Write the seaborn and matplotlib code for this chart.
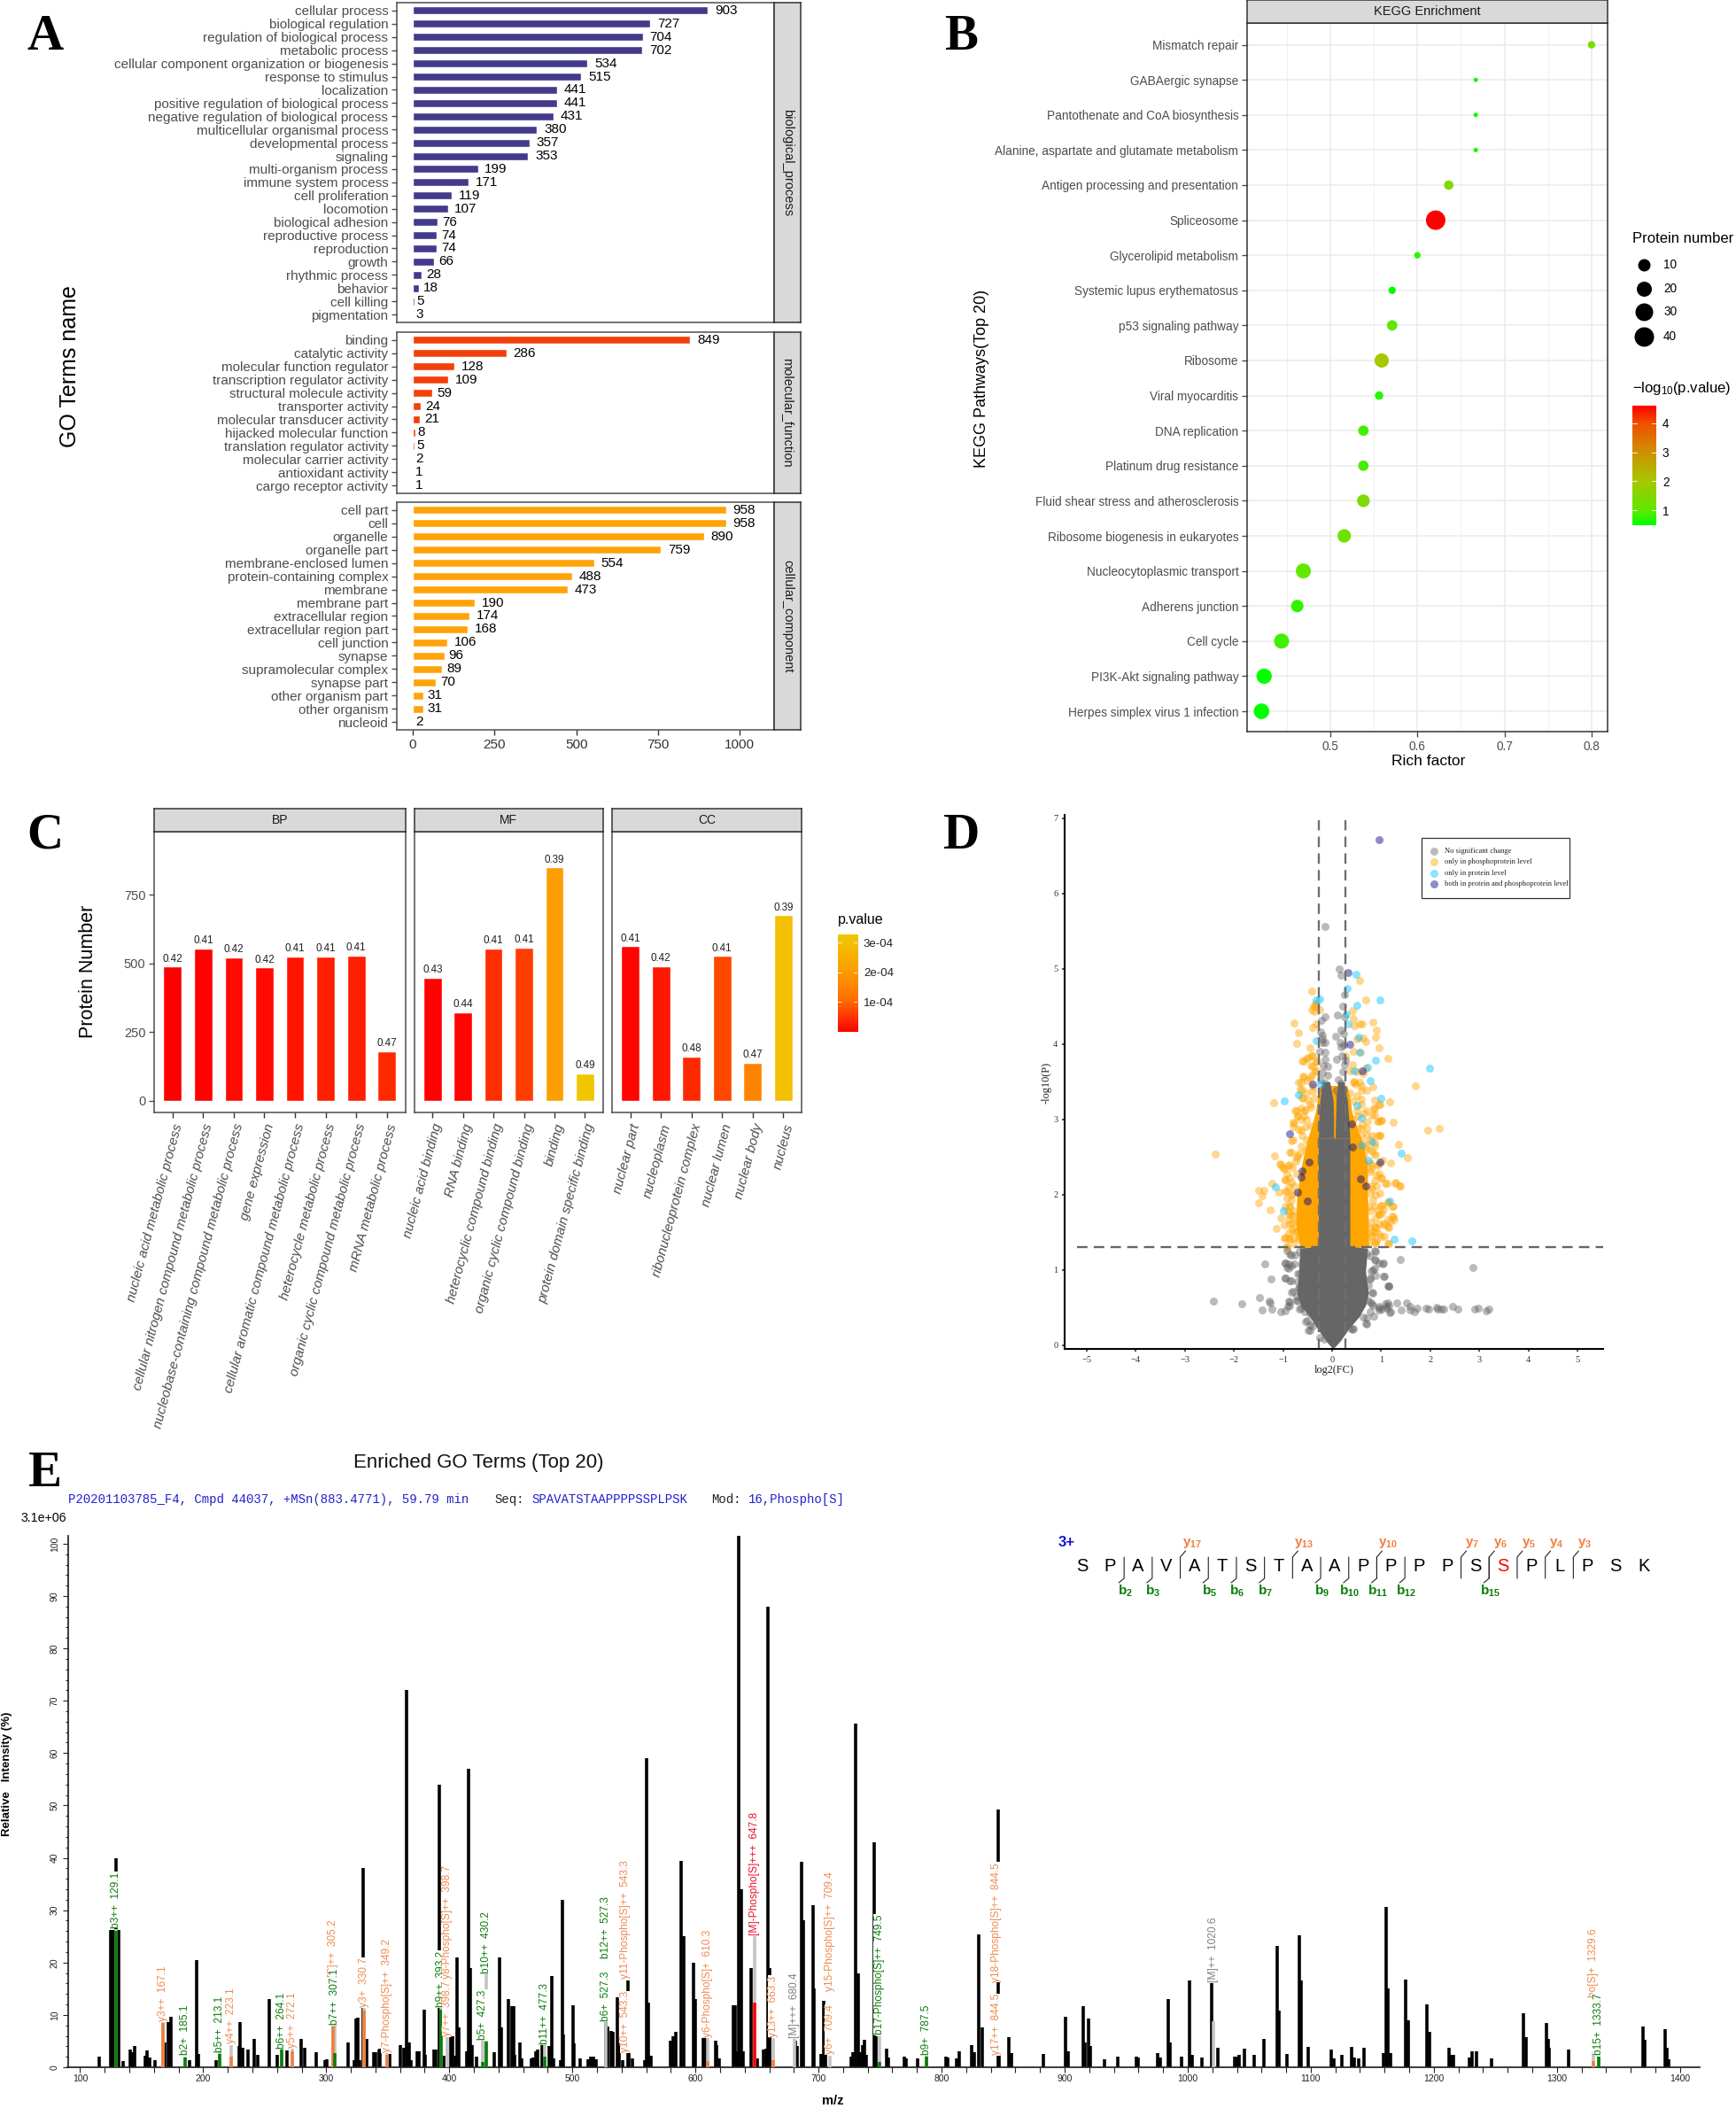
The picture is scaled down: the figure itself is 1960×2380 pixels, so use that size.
import numpy as np
import pandas as pd
import matplotlib
matplotlib.use('Agg')
import matplotlib.pyplot as plt
from matplotlib.colors import LinearSegmentedColormap, Normalize
import seaborn as sns

W, H = 1960, 2380

# --- panel A: GO terms ---
bp_terms = ['cellular process', 'biological regulation', 'regulation of biological process', 'metabolic process',
            'cellular component organization or biogenesis', 'response to stimulus', 'localization',
            'positive regulation of biological process', 'negative regulation of biological process',
            'multicellular organismal process', 'developmental process', 'signaling', 'multi-organism process',
            'immune system process', 'cell proliferation', 'locomotion', 'biological adhesion',
            'reproductive process', 'reproduction', 'growth', 'rhythmic process', 'behavior', 'cell killing',
            'pigmentation']
bp_counts = [903, 727, 704, 702, 534, 515, 441, 441, 431, 380, 357, 353, 199, 171, 119, 107, 76, 74, 74, 66, 28, 18, 5, 3]
mf_terms = ['binding', 'catalytic activity', 'molecular function regulator', 'transcription regulator activity',
            'structural molecule activity', 'transporter activity', 'molecular transducer activity',
            'hijacked molecular function', 'translation regulator activity', 'molecular carrier activity',
            'antioxidant activity', 'cargo receptor activity']
mf_counts = [849, 286, 128, 109, 59, 24, 21, 8, 5, 2, 1, 1]
cc_terms = ['cell part', 'cell', 'organelle', 'organelle part', 'membrane-enclosed lumen', 'protein-containing complex',
            'membrane', 'membrane part', 'extracellular region', 'extracellular region part', 'cell junction',
            'synapse', 'supramolecular complex', 'synapse part', 'other organism part', 'other organism', 'nucleoid']
cc_counts = [958, 958, 890, 759, 554, 488, 473, 190, 174, 168, 106, 96, 89, 70, 31, 31, 2]

# --- panel B: KEGG ---
kegg_names = ['Mismatch repair', 'GABAergic synapse', 'Pantothenate and CoA biosynthesis',
              'Alanine, aspartate and glutamate metabolism', 'Antigen processing and presentation', 'Spliceosome',
              'Glycerolipid metabolism', 'Systemic lupus erythematosus', 'p53 signaling pathway', 'Ribosome',
              'Viral myocarditis', 'DNA replication', 'Platinum drug resistance',
              'Fluid shear stress and atherosclerosis', 'Ribosome biogenesis in eukaryotes',
              'Nucleocytoplasmic transport', 'Adherens junction', 'Cell cycle', 'PI3K-Akt signaling pathway',
              'Herpes simplex virus 1 infection']
kegg_rich = [.8, .667, .667, .667, .636, .621, .6, .571, .571, .559, .556, .538, .538, .538, .516, .469, .462, .444, .424, .421]
kegg_count = [5, 2, 2, 2, 7, 41, 4, 5, 8, 17, 6, 8, 8, 11, 14, 20, 10, 20, 21, 22]
kegg_logp = [1.3, .6, .55, .5, 1.5, 4.6, .7, .55, 1.0, 2.0, .7, .85, .85, 1.4, 1.2, 1.05, .75, .85, .5, .5]

# --- panel C ---
c_bp_terms = ['nucleic acid metabolic process', 'cellular nitrogen compound metabolic process',
              'nucleobase-containing compound metabolic process', 'gene expression',
              'cellular aromatic compound metabolic process', 'heterocycle metabolic process',
              'organic cyclic compound metabolic process', 'mRNA metabolic process']
c_bp_vals = [488, 553, 522, 485, 525, 524, 529, 181]
c_bp_ratio = ['0.42', '0.41', '0.42', '0.42', '0.41', '0.41', '0.41', '0.47']
c_bp_p = [1e-6, 2e-6, 1e-5, 1e-5, 2e-5, 3e-5, 3e-5, 4e-5]
c_mf_terms = ['nucleic acid binding', 'RNA binding', 'heterocyclic compound binding', 'organic cyclic compound binding',
              'binding', 'protein domain specific binding']
c_mf_vals = [448, 322, 555, 557, 849, 100]
c_mf_ratio = ['0.43', '0.44', '0.41', '0.41', '0.39', '0.49']
c_mf_p = [3e-6, 4e-6, 4.5e-5, 6e-5, 2.1e-4, 3.2e-4]
c_cc_terms = ['nuclear part', 'nucleoplasm', 'ribonucleoprotein complex', 'nuclear lumen', 'nuclear body', 'nucleus']
c_cc_vals = [562, 491, 162, 527, 139, 675]
c_cc_ratio = ['0.41', '0.42', '0.48', '0.41', '0.47', '0.39']
c_cc_p = [5e-6, 2.4e-5, 4e-5, 7e-5, 1.5e-4, 3.0e-4]

# --- panel D: volcano, the points that can be told apart ---
orange_fc = [-2.39, 1.69, 1.94, 2.19, 1.36, 1.53, -1.2, -1.18, -1.06, -1.02, -1.49, -1.39, -1.42, -1.5, -1.23, -1.08, -1.27,
             -1.05, -1.14, -.77, -.68, -.73, -.41, -.38, -.32, -.41, -.26, -.34, -.36, -.39, -.32, -.45, -.61, -.52, -.41,
             -.32, -.43, -.36, -.59, -.51, -.68, -.65, -.41, -.62, -.75, -.7, -.79, -.68, -.83, -.86, -.9, -.95, -.95,
             -.87, -.88, -.81, -.95, -.86, -.69, -.93, -.72, -.77, -.63, -.8, -.74, -.92, -.84, -.98, -.78,
             .56, .68, .41, .43, .45, .56, .61, .82, .91, .88, .63, .5, .68, .95, 1.13, .43, .57, .27, .68, .36, .45, .63,
             .83, .59, .36, .86, 1.17, .96, .84, .59, .81, .99, 1.24, .92, .72, .81, .98, .92, .87, .72, 1.02, 1.19, .95,
             .81, .9, .99, 1.09, 1.28, 1.37, .9, .81, 1.13, 1.22, 1.05, .99, 1.22, 1.26, 1.13, 1.05, 1.14, .95, .86, .99,
             .9, 1.13, .86, .81, .75, .84, .78, .88]
orange_p = [2.54, 3.45, 2.86, 2.88, 2.67, 2.49, 3.22, 2.51, 2.41, 2.36, 2.06, 2.06, 1.98, 1.89, 2.15, 2.03, 1.8,
            1.69, 1.55, 4.28, 4.15, 4.01, 4.7, 4.5, 4.51, 4.46, 4.46, 4.54, 4.43, 4.22, 4.27, 3.95, 3.77, 3.81, 3.85,
            3.76, 3.71, 3.63, 3.57, 3.52, 3.49, 3.4, 3.58, 3.29, 3.12, 3.05, 2.96, 2.87, 2.72, 2.56, 2.38, 2.2, 2.05,
            1.85, 1.74, 1.62, 1.43, 1.41, 1.42, 1.3, 1.52, 1.72, 3.15, 2.9, 2.45, 2.28, 2.0, 1.6, 1.35,
            4.85, 4.59, 4.45, 4.34, 4.24, 4.27, 4.27, 4.29, 4.19, 4.09, 4.08, 4.07, 4.03, 3.95, 3.81, 3.9, 3.89, 3.84, 3.68,
            3.65, 3.5, 3.61, 3.43, 3.45, 3.35, 3.26, 3.23, 3.2, 3.15, 3.27, 3.06, 2.98, 2.96, 2.97, 2.97, 2.79, 2.79, 2.78,
            2.64, 2.61, 2.46, 2.42, 2.41, 2.38, 2.26, 2.22, 2.15, 2.15, 2.12, 2.11, 2.08, 1.9, 1.84, 1.81, 1.86, 1.71, 1.67,
            1.67, 1.62, 1.57, 1.74, 1.57, 1.45, 1.38, 1.35, 1.36, 1.46, 1.85, 2.55, 2.3, 1.5]
orange_edge_fc = [-1.04, -.98, -.86, -.81, -.73, -.95, -.83, -.73, -.93, -.8, -.86, -.83, -.89, -.81, -.73, -.7, -.98, -.89,
                  -.8, -.67, -.92, -.58, -.48, -.39, -.3, -.4, -.33, -.57, -.46, -.64, -.61, -.4, -.6, -.73, -.54, -.7,
                  -.77, -.58, -.43, -.64, -.8, -.83, -.7, .77, .92, 1.01, .95, 1.12, 1.3, 1.39, .89, .98, .8, .86, 1.01,
                  1.13, 1.24, .95, .89, 1.24, 1.19, 1.07, 1.16, .9, .77, .8, 1.07, 1.15, .89, .74, .41, .5, .44, .56, .71,
                  .98, .87, .71, .86, 1.01, .95, .71, .59, .65,
                  -.58, -.64, -.52, -.46, -.55, -.43, -.61, -.52, -.64, -.55, -.67, -.43, -.49, -.37, -.52, -.4,
                  .47, .59, .5, .44, .59, .5, .65, .53, .44, .62, .53, .71, .59, .77, .68, .8, .65, .89, .98, .86,
                  -.86, -.89, -.77, -.92, -.83, -.95, -.89, -.77, -.86, -.8, -.89,
                  .8, .86, .77, .83, .77, .92, 1.01, .8, .95, .83, .95]
orange_edge_p = [2.4, 2.34, 2.4, 2.36, 2.49, 2.2, 2.16, 2.28, 2.05, 2.02, 1.85, 1.73, 1.67, 1.55, 1.65, 1.51, 1.42, 1.42,
                 1.42, 1.44, 1.32, 3.77, 3.82, 3.84, 3.77, 3.7, 3.65, 3.56, 3.55, 3.49, 3.4, 3.37, 3.28, 3.12, 3.13, 3.04,
                 2.95, 3.04, 3.16, 2.86, 2.73, 2.56, 2.51, 2.42, 2.38, 2.22, 2.28, 2.15, 2.16, 2.11, 2.0, 2.02, 2.12, 1.85,
                 1.86, 1.89, 1.85, 1.74, 1.69, 1.7, 1.65, 1.6, 1.56, 1.56, 1.55, 1.44, 1.44, 1.35, 1.36, 1.36, 3.73, 3.63,
                 3.49, 3.49, 3.39, 3.2, 3.14, 3.12, 3.06, 2.98, 2.97, 2.8, 2.88, 2.69,
                 3.12, 3.0, 3.0, 3.2, 2.9, 2.92, 2.79, 2.73, 2.65, 2.59, 2.55, 2.69, 3.26, 3.28, 3.35, 3.43,
                 3.47, 3.39, 3.31, 3.24, 3.2, 3.12, 3.08, 3.04, 3.0, 2.94, 2.88, 2.88, 2.79, 2.73, 2.65, 2.59, 2.53, 2.53,
                 2.79, 2.69,
                 2.22, 2.1, 2.12, 1.95, 1.93, 1.85, 1.77, 1.79, 1.61, 1.51, 1.49,
                 2.34, 2.18, 2.02, 1.93, 1.79, 1.79, 1.75, 1.63, 1.61, 1.51, 1.48]
blue_fc = [1.99, -.97, -.68, .97, .5, .48, .3, -.26, -.32, .29, .33, -.32, .54, .56, .89, .72, .45, .78, .99, .5, .6, .81,
           .59, 1.41, .73, -1.16, -.99, 1.18, 1.27, 1.62, -.23]
blue_p = [3.68, 3.25, 3.33, 4.59, 4.52, 4.93, 4.74, 4.6, 4.59, 4.4, 4.27, 4.04, 4.09, 3.89, 3.79, 3.69, 3.65, 3.52, 3.28,
          3.18, 3.02, 2.7, 2.66, 2.55, 2.46, 2.1, 1.79, 1.91, 1.41, 1.39, 3.47]
purple_fc = [.95, .32, .36, .61, -.39, -.87, .98, -.61, -.63, -.71, .4, .41, .58, .68, -.47, -.5]
purple_p = [6.72, 4.95, 4.0, 3.64, 3.47, 2.81, 2.43, 2.31, 2.23, 2.03, 2.94, 2.63, 2.21, 2.12, 2.43, 1.92]
grey_fc = [-.14, .15, .18, .26, .21, .11, .25, -.15, -.22, .18, .24, .07, -.23, -.2, -.2, -.14, -.2, .16, .23, .18, -.25,
           -.14, .2, .09, .27, -.14, -.18, -.09, .25, .21, -.2, -.09, .12, -.23, -.14, .18, -.18, .09, .23, -.09, .14,
           2.86, 1.39, 1.13, 1.05, .86, .88, 1.02, .89, .77, .81, -1.37, -1.24, -.96, -.88, -.93, -.96, -.86, -.86, -.83,
           -.88, -2.42, -1.85, -1.48, -1.28, -1.26, -1.42, -1.23, -1.05, -.96, -.9, -.66, -.56, -.54, -.45, -.48,
           .81, .95, .95, 1.09, 1.14, 1.11, 1.17, 1.31, 1.4, 1.51, 1.59, 1.58, 1.67, 1.74, 1.92, 1.96, 2.12, 2.14, 2.21,
           2.27, 2.45, 2.57, 2.91, 2.97, 3.14, 3.2, .84, .68, .63, .41, -.75, -.7, -.68, -.72, .78, .82, .74, .72]
grey_p = [5.56, 5.0, 4.91, 4.66, 4.5, 4.39, 4.36, 4.36, 4.32, 4.19, 4.14, 4.1, 4.16, 4.12, 4.07, 4.02, 4.02, 4.02, 3.99,
          3.96, 3.9, 3.89, 3.84, 3.8, 3.79, 3.8, 3.72, 3.7, 3.73, 3.63, 3.62, 3.58, 3.53, 3.53, 3.48, 3.48, 3.4, 3.38,
          3.4, 3.35, 3.33, 1.03, 1.14, .79, .91, 1.26, 1.13, 1.08, .93, .88, .7, 1.08, .88, 1.09, 1.08, 1.03, .89, .86,
          1.21, .7, .59, .58, .55, .63, .58, .56, .47, .48, .44, .46, .52, .48, .44, .32, .27, .2,
          .55, .52, .47, .55, .56, .49, .43, .56, .47, .56, .52, .47, .45, .49, .49, .48, .5, .48, .48, .48, .51, .48,
          .48, .49, .46, .48, .39, .29, .37, .21, 1.2, .95, .75, .6, 1.18, 1.0, .8, .6]
grey_edge_fc = [-.92, -.83, -.67, -.58, -.95, -.89, -.83, -.77, -.64, -.67, -.95, -.84, -.7, -.67, -.8, -.73, -.7, -.86, -.87,
                -.64, -.58, -.46, -.51, -.4, -.45, -.25, -.16, .71, .89, .86, .95, 1.04, .86, .8, 1.07, .77, 1.16, 1.16, .83,
                .77, .83, .95, .77, .71, .71, .44, .38, 1.19, 1.16, 1.1, 1.01]
grey_edge_p = [1.26, 1.2, 1.24, 1.22, 1.09, 1.02, 1.06, 1.08, 1.08, .95, .89, .86, .85, .77, .71, .65, .59, .57, .53, .49, .53,
               .42, .33, .26, .2, .1, .08, 1.22, 1.24, 1.14, 1.09, 1.09, 1.02, .98, .91, .89, .79, .79, .69, .57, .53, .49,
               .44, .36, .28, .22, .22, .44, .53, .52, .48]

# the solid mass of the volcano, as its outline
mass_orange_p = [1.3, 1.6, 2.0, 2.4, 2.7, 2.9, 3.1, 3.3, 3.45]
mass_orange_left = [-.66, -.74, -.72, -.62, -.52, -.42, -.34, -.29, -.24]
mass_orange_right = [.74, .74, .72, .72, .62, .50, .40, .36, .30]
mass_grey_p = [-.04, .06, .22, .38, .53, .69, .98, 1.29, 1.31, 2.75]
mass_grey_left = [0, -.13, -.3, -.46, -.64, -.72, -.68, -.66, -.28, -.28]
mass_grey_right = [.03, .17, .34, .55, .68, .74, .68, .72, .36, .36]
lobe_p = [2.75, 3.0, 3.25, 3.5]
lobe_left_out = [-.28, -.27, -.25, -.2]
lobe_left_in = [.03, .03, .02, -.05]
lobe_right_in = [.06, .07, .08, .12]
lobe_right_out = [.36, .34, .31, .24]

# --- panel E: spectrum ---
peak_mz = [115.6, 125.2, 127, 129.5, 131.2, 134.8, 140.8, 142.5, 144.4, 152.8, 154.7, 156.8, 160.7, 169, 171.5, 173.6, 188.7,
           194.7, 196, 210.3, 229.5, 230.2, 232, 236.2, 241.7, 244.4, 254, 260, 267.9, 279.9, 282.2, 291.9, 299, 300.2,
           317.7, 323, 324.2, 325.4, 327, 329.7, 333, 338.6, 340.3, 342.7, 343.4, 351.8, 360.4, 363.3, 365.5, 367.1, 369,
           373.9, 375, 379.4, 380.6, 387.8, 389, 391.8, 395.4, 401.4, 402.6, 404.5, 406.5, 407.7, 414.1, 415.8, 417.3,
           418.5, 421.8, 436.2, 441.2, 442.5, 447.7, 450.8, 452.5, 453.2, 457.5, 459, 466.6, 468.5, 470.4, 472, 475.6,
           481, 483.3, 485, 490.5, 491.8, 493, 500.5, 501.5, 506.4, 513, 515, 517, 519, 527.3, 528.5, 531.5, 533, 536.5,
           538, 541, 545, 546, 549, 558.8, 560, 562, 564, 579.7, 581.7, 583.8, 588.7, 590.5, 598.2, 599.7, 606.7, 608.5,
           616.2, 617.5, 619.5, 631, 632, 633.7, 635, 637.5, 639, 645, 650, 655.5, 657.3, 658.9, 660.7, 681.3, 683, 686.4,
           687.6, 695.4, 696.5, 702.3, 704.4, 705.5, 726.7, 728.3, 730, 732, 733.8, 735.7, 737.3, 739, 745, 746.5, 755, 757,
           770, 771.5, 780.2, 803.3, 805, 812.3, 814, 824.6, 826.5, 830, 832.9, 846, 846.9, 854.3, 857, 883, 900.4, 902.6,
           915, 916.5, 919.3, 921, 932.3, 943, 958.3, 959.5, 975.6, 978, 983.9, 985.5, 994.8, 1001.6, 1003.5, 1011.7, 1019.5,
           1024.4, 1038, 1040, 1042, 1046, 1054, 1062, 1072.4, 1073.8, 1080.6, 1090.6, 1092, 1098, 1116.6, 1119, 1125, 1133.5,
           1135.5, 1139, 1143, 1159, 1161, 1162.7, 1165, 1177.3, 1179, 1194.7, 1196.5, 1212.4, 1214, 1216, 1229, 1231, 1234.3,
           1246.6, 1273, 1275, 1291.3, 1292.8, 1294, 1309.6, 1370, 1371.6, 1387.6, 1389.5, 1391]
peak_int = [2, 26.2, 26.2, 40, 26.2, 1.2, 3.4, 2.8, 4, 2.2, 3.2, 1.8, 1.4, 4.8, 8.7, 9.6, 1.4,
            20.5, 2.5, 1.4, 4, 8.6, 3.7, 3.4, 5.4, 2.4, 13.1, 2.4, 3.2, 5.4, 3.7, 2.8, 1.4, 1.6,
            4.8, 1.4, 9.3, 9.5, 1.4, 38, 5.4, 2.8, 2.9, 3.4, 3.5, 2.5, 4.2, 3.7, 72, 4.8, 1.4,
            3.1, 3.1, 11, 2.3, 3.3, 3.4, 54, 2.2, 5.8, 5.9, 2.2, 20.9, 7.6, 3.1, 57, 18.9,
            4.2, 2, 2.9, 21, 7.6, 13, 11.7, 11.6, 2.3, 4.8, 1.7, 1.7, 1.9, 3.1, 3.4, 4.2,
            4, 17.5, 1.7, 1.4, 32, 6.2, 11.8, 4.5, 1.7, 1.5, 2, 2, 1.6, 8.6, 7.8, 7, 6.8, 13.4,
            4.5, 1.4, 16.5, 2.9, 1.7, 1.4, 59, 12.4, 2.2, 5, 5.9, 6.8, 39.5, 25, 20, 13, 5.6, 5.6,
            5, 4.2, 1.7, 11.8, 11.8, 3.1, 101.5, 34, 3, 19, 1.7, 3.4, 3.6, 88, 19, 5, 4, 39.2,
            28, 31, 15, 2.5, 12.7, 2.5, 2, 2.8, 65.6, 18, 2.8, 4.2, 5.2, 2.4, 43, 6, 3.5, 1.9,
            2, 1.7, 1.7, 2, 1.8, 1.7, 3, 4.3, 2.8, 25.3, 7.6, 49.3, 2.5, 5.7, 2.7, 2.5, 9.7, 3,
            11.7, 4.8, 9.3, 4, 1.6, 2.1, 2.1, 1.9, 2.7, 1.9, 13, 4.7, 2.1, 16.5, 2.3, 1.9, 16,
            3.8, 2, 2.1, 2.3, 3.5, 2.3, 5.4, 23.2, 10.9, 2.5, 25.2, 16.6, 3.9, 3.3, 1.7, 2.3, 3.9,
            1.8, 1.7, 3.8, 2.7, 30.7, 15, 2.7, 16.8, 8.9, 12, 6.8, 3.7, 2.4, 2.3, 1.8, 3, 3,
            1.7, 10.3, 5.7, 8.4, 5.4, 3.8, 3.4, 7.8, 5.2, 7.2, 3.8, 1.5]
# matched ions: m/z, height of the coloured foot, full height, ion type
ion_mz = [129.1, 167.1, 185.1, 213.1, 223.1, 264.1, 272.1, 305.2, 307.1, 330.7, 349.2, 393.2, 398.7, 427.3, 430.2, 477.3,
          527.3, 610.3, 647.8, 663.3, 680.4, 709.4, 749.5, 787.5, 1020.6, 1329.6, 1333.7]
ion_foot = [26, 8.5, 1.9, 2.6, 2, 3.3, 3, 7.7, 2.7, 10.8, 2.4, 11, 0, 1, 4.9, 2, 0, 1.1, 12.3, 1.4, 0, 0, 1, 2, 0, 1.2, 2]
ion_top = [26.4, 8.7, 2.1, 2.8, 4.3, 3.5, 3.6, 8, 8, 11.3, 2.7, 11.3, 5.8, 5, 17.7, 4.2, 8.7, 5.5, 25, 5.6, 5.4, 2.2, 6, 2.2, 8.8, 3, 2.1]
ion_kind = ['b', 'y', 'b', 'b', 'y', 'b', 'y', 'y', 'b', 'y', 'y', 'b', 'y', 'b', 'b', 'b', 'b', 'y', 'M', 'y', 'n', 'y',
            'b', 'b', 'n', 'y', 'b']
label_mz = [1329.6, 305.2, 393.2, 398.7, 398.7, 427.3, 527.3, 527.3, 543.3, 543.3, 264.1, 129.1, 167.1, 185.1, 213.1, 223.1,
            272.1, 307.1, 330.7, 349.2, 430.2, 477.3, 610.3, 647.8, 663.3, 680.4, 709.4, 709.4, 749.5, 787.5, 844.5,
            844.5, 1020.6, 1333.7]
label_base = [13.4, 17.2, 11.5, 17, 6, 5.2, 8.8, 20.8, 2.8, 17, 3.5, 26.6, 8.8, 2.3, 2.9, 4.5,
              3.7, 8.1, 11.5, 2.8, 18, 4.4, 5.8, 25.2, 5.8, 5.6, 2.5, 14.6, 6.2, 2.3, 2.3,
              16.3, 16.3, 2.3]
label_text = ['ho[S]+  1329.6', '[S]++  305.2', 'b9++  393.2', 'y8-Phospho[S]++  398.7', 'y7++  398.7',
              'b5+  427.3', 'b6+  527.3', 'b12++  527.3', 'y10++  543.3', 'y11-Phospho[S]++  543.3', 'b6++  264.1',
              'b3++  129.1', 'y3++  167.1', 'b2+  185.1', 'b5++  213.1', 'y4++  223.1', 'y5++  272.1', 'b7++  307.1',
              'y3+  330.7', 'y7-Phospho[S]++  349.2', 'b10++  430.2', 'b11++  477.3', 'y6-Phospho[S]+  610.3',
              '[M]-Phospho[S]+++  647.8', 'y13++  663.3', '[M]+++  680.4', 'y6+  709.4', 'y15-Phospho[S]++  709.4',
              'b17-Phospho[S]++  749.5', 'b9+  787.5', 'y17++  844.5', 'y18-Phospho[S]++  844.5', '[M]++  1020.6',
              'b15+  1333.7']
label_kind = ['y', 'y', 'b', 'y', 'y', 'b', 'b', 'b', 'y', 'y', 'b', 'b', 'y', 'b', 'b', 'y', 'y', 'b', 'y', 'y', 'b', 'b',
              'y', 'M', 'y', 'n', 'y', 'y', 'b', 'b', 'y', 'y', 'n', 'b']
sequence = list('SPAVATSTAAPPPPSSPLPSK')
b_ions = [2, 3, 5, 6, 7, 9, 10, 11, 12, 15]
y_ions = [17, 13, 10, 7, 6, 5, 4, 3]


def box(fig, left, top, right, bottom):
    return fig.add_axes([left / W, 1 - bottom / H, (right - left) / W, (bottom - top) / H])


def style_frame(ax, color='#4d4d4d', lw=1.1):
    for s in ax.spines.values():
        s.set_visible(True)
        s.set_color(color)
        s.set_linewidth(lw)


def strip(fig, left, top, right, bottom, text, rotation=0, size=10):
    ax = box(fig, left, top, right, bottom)
    ax.set_facecolor('#d9d9d9')
    ax.set_xticks([])
    ax.set_yticks([])
    style_frame(ax, '#333333', 1.1)
    ax.text(.5, .5, text, transform=ax.transAxes, ha='center', va='center', rotation=rotation, size=size, color='#1a1a1a')
    return ax


sns.set_theme(style='ticks')
plt.rcParams['font.family'] = ['Liberation Sans', 'DejaVu Sans']
plt.rcParams['mathtext.default'] = 'regular'

fig = plt.figure(figsize=(W / 100, H / 100), dpi=100, facecolor='white')
ov = fig.add_axes([0, 0, 1, 1], zorder=20)
ov.set_xlim(0, W)
ov.set_ylim(H, 0)
ov.axis('off')

for letter, x, y in [('A', 30, 56), ('B', 1066, 56), ('C', 30, 958), ('D', 1065, 958), ('E', 31, 1678)]:
    ov.text(x, y, letter, family='Liberation Serif', weight='bold', size=41, ha='left', va='baseline', color='black')

# --- A ---
a_groups = [(bp_terms, bp_counts, '#443a8b', 3, 364, 'biological_process'),
            (mf_terms, mf_counts, '#f2400a', 375, 557, 'molecular_function'),
            (cc_terms, cc_counts, '#ffa30a', 567, 824, 'cellular_component')]
for terms, counts, col, top, bottom, name in a_groups:
    ax = box(fig, 448, top, 874, bottom)
    sns.barplot(x=counts, y=terms, color=col, saturation=1, width=.6, ax=ax)
    ax.set_xlim(-49, 1105)
    ax.set_ylim(len(terms) - .4, -.6)
    style_frame(ax)
    ax.tick_params(axis='y', labelsize=11, colors='#4d4d4d', length=4, width=1, pad=3)
    for i, v in enumerate(counts):
        # gap grows with the label width, like hjust in the original
        ax.annotate(str(v), (v, i), xytext=(1.85 * len(str(v)), 0), textcoords='offset points', va='center', size=11,
                    color='black')
    if name == 'cellular_component':
        ax.set_xticks([0, 250, 500, 750, 1000])
        ax.tick_params(axis='x', labelsize=11, colors='#333333', length=4, width=1, pad=3)
    else:
        ax.set_xticks([])
    strip(fig, 874, top, 904, bottom, name, rotation=-90, size=10.5)
ov.text(79, 414, 'GO Terms name', rotation=90, ha='center', va='center', size=18, color='black')

# --- B ---
kegg_df = pd.DataFrame({'pathway': kegg_names, 'rich': kegg_rich, 'count': kegg_count, 'logp': kegg_logp})
legend_n = [2, 10, 20, 30, 40]
legend_d = [5, 14, 17, 20, 22]
size_map = {n: (np.interp(n, legend_n, legend_d) * .72) ** 2 for n in sorted(set(kegg_count))}
kegg_cmap = LinearSegmentedColormap.from_list('kegg', [(0, '#00ff00'), (.124, '#60e800'), (.367, '#a6c800'),
                                                       (.611, '#d09000'), (.854, '#f05000'), (1, '#ff0000')])
ax = box(fig, 1408, 26, 1815, 826)
ax.set_axisbelow(True)
ax.grid(True, which='major', color='#ebebeb', lw=1.1)
ax.set_xticks([.45, .55, .65, .75], minor=True)
ax.grid(True, which='minor', axis='x', color='#f0f0f0', lw=.7)
sns.scatterplot(data=kegg_df, x='rich', y='pathway', hue='logp', size='count', sizes=size_map, palette=kegg_cmap,
                hue_norm=(.49, 4.6), linewidth=0, legend=False, ax=ax, zorder=3)
ax.set_xlim(.4044, .8184)
ax.set_ylim(19.58, -.62)
ax.set_xticks([.5, .6, .7, .8])
ax.set_xticklabels(['0.5', '0.6', '0.7', '0.8'])
ax.tick_params(axis='both', which='major', labelsize=9.8, colors='#4d4d4d', length=4, width=1, pad=3)
ax.tick_params(axis='x', which='minor', length=0)
ax.set_xlabel('')
ax.set_ylabel('')
style_frame(ax, '#333333')
strip(fig, 1408, 0, 1815, 26, 'KEGG Enrichment', size=10.5)
ov.text(1108, 427, 'KEGG Pathways(Top 20)', rotation=90, ha='center', va='center', size=13, color='black')
ov.text(1613, 859, 'Rich factor', ha='center', va='center', size=12.5, color='black')
ov.text(1843, 269, 'Protein number', ha='left', va='center', size=12, color='black')
for n, yy in zip([10, 20, 30, 40], [298.6, 325.5, 352.4, 380]):
    ov.scatter([1856], [yy], s=(np.interp(n, legend_n, legend_d) * .72) ** 2, color='black', linewidth=0)
    ov.text(1878, yy, str(n), ha='left', va='center', size=9.8, color='black')
ov.text(1843, 438, r'$-$log$_{10}$(p.value)', ha='left', va='center', size=12, color='black')
cb = box(fig, 1843, 458, 1870, 593)
cb.imshow(np.linspace(0, 1, 256)[:, None], aspect='auto', cmap=kegg_cmap, origin='lower', extent=[0, 1, .49, 4.6])
for t in [1, 2, 3, 4]:
    cb.plot([0, .2], [t, t], color='white', lw=.6)
    cb.plot([.8, 1], [t, t], color='white', lw=.6)
cb.set_xlim(0, 1)
cb.set_ylim(.49, 4.6)
cb.set_xticks([])
cb.yaxis.tick_right()
cb.set_yticks([1, 2, 3, 4])
cb.tick_params(axis='y', length=0, labelsize=9.8, colors='black', pad=5)
for s in cb.spines.values():
    s.set_visible(False)

# --- C ---
p_cmap = LinearSegmentedColormap.from_list('pv', ['#ff0000', '#ff7000', '#fda300', '#eec900'])
p_norm = Normalize(0, 3.27e-4)
c_groups = [(c_bp_terms, c_bp_vals, c_bp_ratio, c_bp_p, 174, 457.5, 'BP'),
            (c_mf_terms, c_mf_vals, c_mf_ratio, c_mf_p, 467.6, 681, 'MF'),
            (c_cc_terms, c_cc_vals, c_cc_ratio, c_cc_p, 691, 905, 'CC')]
for terms, vals, ratios, pvals, left, right, name in c_groups:
    ax = box(fig, left, 938.7, right, 1256)
    sns.barplot(x=terms, y=vals, hue=terms, palette=[p_cmap(p_norm(p)) for p in pvals], saturation=1, width=.6,
                legend=False, ax=ax)
    ax.set_xlim(-.6, len(terms) - .4)
    ax.set_ylim(-42, 980)
    style_frame(ax)
    ax.set_xticks(range(len(terms)))
    ax.set_xticklabels(terms, rotation=75, ha='right', rotation_mode='anchor', style='italic', size=11, color='#4d4d4d')
    ax.tick_params(axis='x', length=4, width=1, pad=4, color='#333333')
    for i, (v, r) in enumerate(zip(vals, ratios)):
        ax.annotate(r, (i, v), xytext=(0, 2), textcoords='offset points', ha='center', va='bottom', size=8.4, color='#222222')
    if name == 'BP':
        ax.set_yticks([0, 250, 500, 750])
        ax.tick_params(axis='y', labelsize=10.5, colors='#4d4d4d', length=4, width=1, pad=3)
    else:
        ax.set_yticks([])
    strip(fig, left, 912.5, right, 938.7, name, size=10)
ov.text(99, 1097, 'Protein Number', rotation=90, ha='center', va='center', size=15.5, color='black')
ov.text(946, 1039, 'p.value', ha='left', va='center', size=11.5, color='black')
cb = box(fig, 946, 1055, 968, 1165)
cb.imshow(np.linspace(0, 1, 256)[:, None], aspect='auto', cmap=p_cmap, origin='lower', extent=[0, 1, 0, 3.27e-4])
for t in [1e-4, 2e-4, 3e-4]:
    cb.plot([0, .2], [t, t], color='white', lw=.6)
    cb.plot([.8, 1], [t, t], color='white', lw=.6)
cb.set_xlim(0, 1)
cb.set_ylim(0, 3.27e-4)
cb.set_xticks([])
cb.yaxis.tick_right()
cb.set_yticks([1e-4, 2e-4, 3e-4])
cb.set_yticklabels(['1e-04', '2e-04', '3e-04'])
cb.tick_params(axis='y', length=0, labelsize=9.5, colors='#222222', pad=5)
for s in cb.spines.values():
    s.set_visible(False)

# --- D ---
ax = box(fig, 1202, 919.5, 1810, 1523)
volcano_colors = {'none': '#666666', 'phos': '#ffa500', 'prot': '#00bfff', 'both': '#000080'}
orange_df = pd.DataFrame({'fc': orange_fc + orange_edge_fc, 'p': orange_p + orange_edge_p})
grey_df = pd.DataFrame({'fc': grey_fc + grey_edge_fc, 'p': grey_p + grey_edge_p})
blue_df = pd.DataFrame({'fc': blue_fc, 'p': blue_p})
purple_df = pd.DataFrame({'fc': purple_fc, 'p': purple_p})
sns.scatterplot(data=orange_df, x='fc', y='p', color=volcano_colors['phos'], alpha=.45, s=42, linewidth=0, ax=ax)
ax.fill_betweenx(mass_orange_p, mass_orange_left, mass_orange_right, color=volcano_colors['phos'], lw=0)
sns.scatterplot(data=grey_df, x='fc', y='p', color=volcano_colors['none'], alpha=.45, s=42, linewidth=0, ax=ax)
ax.fill_betweenx(mass_grey_p, mass_grey_left, mass_grey_right, color=volcano_colors['none'], lw=0)
ax.fill_betweenx(lobe_p, lobe_left_out, lobe_left_in, color=volcano_colors['none'], lw=0)
ax.fill_betweenx(lobe_p, lobe_right_in, lobe_right_out, color=volcano_colors['none'], lw=0)
sns.scatterplot(data=blue_df, x='fc', y='p', color=volcano_colors['prot'], alpha=.45, s=42, linewidth=0, ax=ax)
sns.scatterplot(data=purple_df, x='fc', y='p', color=volcano_colors['both'], alpha=.45, s=42, linewidth=0, ax=ax)
ax.plot([-.263, -.263], [-.05, 6.97], color='#707070', lw=1.7, ls=(0, (5, 3)))
ax.plot([.263, .263], [-.05, 6.97], color='#707070', lw=1.7, ls=(0, (5, 3)))
ax.plot([-5.2, 5.52], [1.3, 1.3], color='#666666', lw=1.7, ls=(0, (5, 3)))
ax.set_xlim(-5.45, 5.52)
ax.set_ylim(-.05, 7.05)
ax.set_xticks(range(-5, 6))
ax.set_yticks(range(0, 8))
ax.set_xlabel('')
ax.set_ylabel('')
ax.tick_params(axis='both', labelsize=7.5, colors='#333333', length=2.5, width=1.2, pad=3)
for lab in ax.get_xticklabels() + ax.get_yticklabels():
    lab.set_family('Liberation Serif')
sns.despine(ax=ax)
ax.spines['left'].set_linewidth(1.5)
ax.spines['bottom'].set_linewidth(1.5)
ax.spines['left'].set_color('black')
ax.spines['bottom'].set_color('black')
ov.text(1182, 1222, '-log10(P)', rotation=90, ha='center', va='center', family='Liberation Serif', size=8.8, color='#222222')
ov.text(1506, 1547, 'log2(FC)', ha='center', va='center', family='Liberation Serif', size=8.8, color='#222222')
ov.add_patch(plt.Rectangle((1605, 945.5), 167, 68.5, fill=False, ec='#333333', lw=.9))
legend_names = ['No significant change', 'only in phosphoprotein level', 'only in protein level',
                'both in protein and phosphoprotein level']
for key, name, yy in zip(['none', 'phos', 'prot', 'both'], legend_names, [960.7, 973.3, 985.9, 998.4]):
    ov.scatter([1619], [yy], s=42, color=volcano_colors[key], alpha=.45, linewidth=0)
    ov.text(1630.5, yy, name, ha='left', va='center', family='Liberation Serif', size=6.1, color='#222222')

# --- E ---
ax = box(fig, 76.5, 1734, 1919, 2334)
ax.vlines(peak_mz, 0, peak_int, color='black', lw=2.6)
ion_palette = {'b': '#0a7d0a', 'y': '#f08040', 'M': '#ff0000', 'n': '#7a7a7a'}
ax.vlines(ion_mz, 0, ion_top, color='#c4c4c4', lw=2.6, zorder=3)
ax.vlines(ion_mz, 0, ion_foot, color=[ion_palette[k] for k in ion_kind], lw=2.6, zorder=3)
text_palette = {'b': '#0a7d0a', 'y': '#f08a50', 'M': '#e8112d', 'n': '#808080'}
for mz, base, text, kind in zip(label_mz, label_base, label_text, label_kind):
    ax.text(mz, base, text, rotation=90, ha='center', va='bottom', size=8.6, color=text_palette[kind], zorder=4,
            bbox=dict(facecolor='white', edgecolor='none', pad=.4))
ax.set_xlim(90, 1416)
ax.set_ylim(0, 101.5)
ax.set_xticks(range(100, 1401, 100))
ax.set_xticks(range(100, 1401, 20), minor=True)
ax.set_yticks(range(0, 101, 10))
ax.set_yticks(range(0, 101, 2), minor=True)
ax.tick_params(axis='x', which='major', labelsize=7.5, colors='#222222', length=4, width=.8, pad=2)
ax.tick_params(axis='x', which='minor', length=4, width=.8, color='#222222')
ax.tick_params(axis='y', which='major', labelsize=7.5, colors='#222222', length=4, width=.8, pad=3, labelrotation=90)
ax.tick_params(axis='y', which='minor', length=2, width=.8, color='#222222')
for lab in ax.get_yticklabels():
    lab.set_va('center')
sns.despine(ax=ax)
ax.spines['left'].set_color('#222222')
ax.spines['bottom'].set_color('#222222')
ax.patch.set_alpha(0)

ov.text(540, 1652, 'Enriched GO Terms (Top 20)', ha='center', va='center', size=16, color='#111111')
for x, text, col in [(76.6, 'P20201103785_F4, Cmpd 44037, +MSn(883.4771), 59.79 min', '#2222cc'), (558, 'Seq:', '#222222'),
                     (600, 'SPAVATSTAAPPPPSSPLPSK', '#2222cc'), (803, 'Mod:', '#222222'), (845, '16,Phospho[S]', '#2222cc')]:
    ov.text(x, 1693, text, ha='left', va='center', family='Liberation Mono', size=10.05, color=col)
ov.text(24, 1714.5, '3.1e+06', ha='left', va='center', size=10.2, color='black')
ov.text(8, 2003, 'Relative   Intensity (%)', rotation=90, ha='center', va='center', size=9.5, weight='bold', color='black')
ov.text(940, 2372, 'm/z', ha='center', va='center', size=10.5, weight='bold', color='black')

# peptide sequence with its fragment marks
seq_x0, seq_step = 1221.6, 31.7
for i, letter in enumerate(sequence):
    ov.text(seq_x0 + i * seq_step, 1768, letter, ha='center', va='center', size=14.5,
            color='#ff0000' if i == 15 else 'black')
ov.text(1204, 1742, '3+', ha='center', va='center', size=12, weight='bold', color='#1111dd')
for k in b_ions:
    x = seq_x0 + (k - .5) * seq_step
    ov.plot([x, x, x - 6], [1758, 1782, 1787], color='#222222', lw=.8)
    ov.text(x + 1, 1796, f'b$_{{{k}}}$', ha='center', va='center', size=11, weight='bold', color='#0a7d0a')
for k in y_ions:
    x = seq_x0 + (21 - k - .5) * seq_step
    ov.plot([x, x, x + 6], [1782, 1758, 1751], color='#222222', lw=.8)
    ov.text(x + 13, 1742, f'y$_{{{k}}}$', ha='center', va='center', size=11, weight='bold', color='#f08040')
ov.set_xlim(0, W)
ov.set_ylim(H, 0)

fig.savefig('out.png', dpi=100, facecolor='white')
